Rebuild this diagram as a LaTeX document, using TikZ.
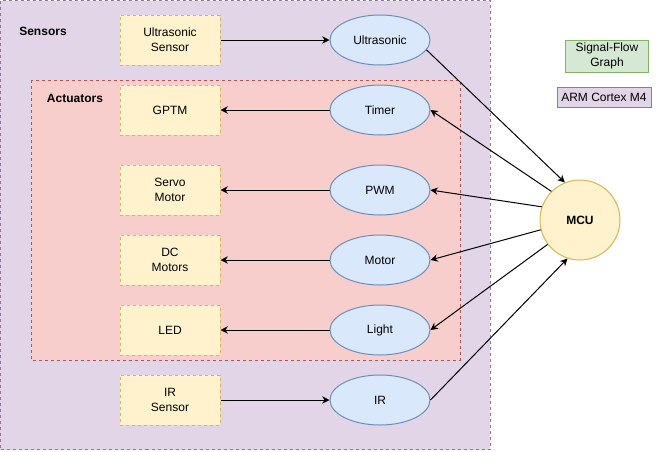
\documentclass[tikz,border=0pt]{standalone}
\usepackage{fontspec}
\setmainfont{Liberation Sans}
\usetikzlibrary{positioning,arrows.meta,shapes.geometric}
\definecolor{grpfill}{HTML}{E1D5E7}
\definecolor{grpline}{HTML}{9673A6}
\definecolor{actfill}{HTML}{F8CECC}
\definecolor{actline}{HTML}{B85450}
\definecolor{devfill}{HTML}{FFF2CC}
\definecolor{devline}{HTML}{D6B656}
\definecolor{perfill}{HTML}{DAE8FC}
\definecolor{perline}{HTML}{6C8EBF}
\definecolor{sfgfill}{HTML}{D5E8D4}
\definecolor{sfgline}{HTML}{82B366}

\begin{document}
\begin{tikzpicture}[x=0.75pt,y=-0.75pt,font=\fontsize{9}{11}\selectfont,line width=0.75pt,
  dashline/.style={dash pattern=on 2.25pt off 2.25pt},
  device/.style={draw=devline,fill=devfill,dashline,minimum width=75pt,minimum height=37.5pt,align=center,inner sep=0pt},
  periph/.style={ellipse,draw=perline,fill=perfill,minimum width=75pt,minimum height=37.5pt,inner sep=0pt},
  grplabel/.style={font=\fontsize{9}{11}\selectfont\bfseries},
  link/.style={-{Stealth[length=5.5pt,width=5.5pt]}}]
\useasboundingbox (0,0) rectangle (658,451);
% groups
\draw[draw=grpline,fill=grpfill,dashline] (0.5,0.5) rectangle (490,449.5);
\draw[draw=actline,fill=actfill,dashline] (31,80) rectangle (460,360);
\node[grplabel] (senslbl) at (43,31) {Sensors};
\node[grplabel] (actlbl) at (75,98) {Actuators};
% devices
\node[device] (usens) at (170,40) {Ultrasonic\\Sensor};
\node[device] (gptm) at (170,110) {GPTM};
\node[device] (servo) at (170,190) {Servo\\Motor};
\node[device] (dcmot) at (170,260) {DC\\Motors};
\node[device] (led) at (170,330) {LED};
\node[device] (irsens) at (170,400) {IR\\Sensor};
% peripherals
\node[periph] (ultra) at (380,40) {Ultrasonic};
\node[periph] (timer) at (380,110) {Timer};
\node[periph] (pwm) at (380,190) {PWM};
\node[periph] (motor) at (380,260) {Motor};
\node[periph] (light) at (380,330) {Light};
\node[periph] (ir) at (380,400) {IR};
\node[circle,draw=devline,fill=devfill,minimum size=60pt,inner sep=0pt,grplabel] (mcu) at (580,220) {MCU};
% legend
\node[draw=sfgline,fill=sfgfill,minimum width=62pt,minimum height=24pt,align=center,inner sep=0pt] (sfg) at (607,56) {Signal-Flow\\Graph};
\node[draw=grpline,fill=grpfill,minimum width=70.5pt,minimum height=15pt,inner sep=0pt] (arm) at (604,97) {ARM Cortex M4};
% connectors
\draw[link] (usens) -- (ultra);
\draw[link] (ultra.-12) -- (mcu.112);
\draw[link] (mcu.135) -- (timer.east);
\draw[link] (mcu.161) -- (pwm.east);
\draw[link] (mcu.194) -- (motor.east);
\draw[link] (mcu.217) -- (light.east);
\draw[link] (ir.east) -- (mcu.252);
\draw[link] (timer) -- (gptm);
\draw[link] (pwm) -- (servo);
\draw[link] (motor) -- (dcmot);
\draw[link] (light) -- (led);
\draw[link] (irsens) -- (ir);
\end{tikzpicture}
\end{document}
